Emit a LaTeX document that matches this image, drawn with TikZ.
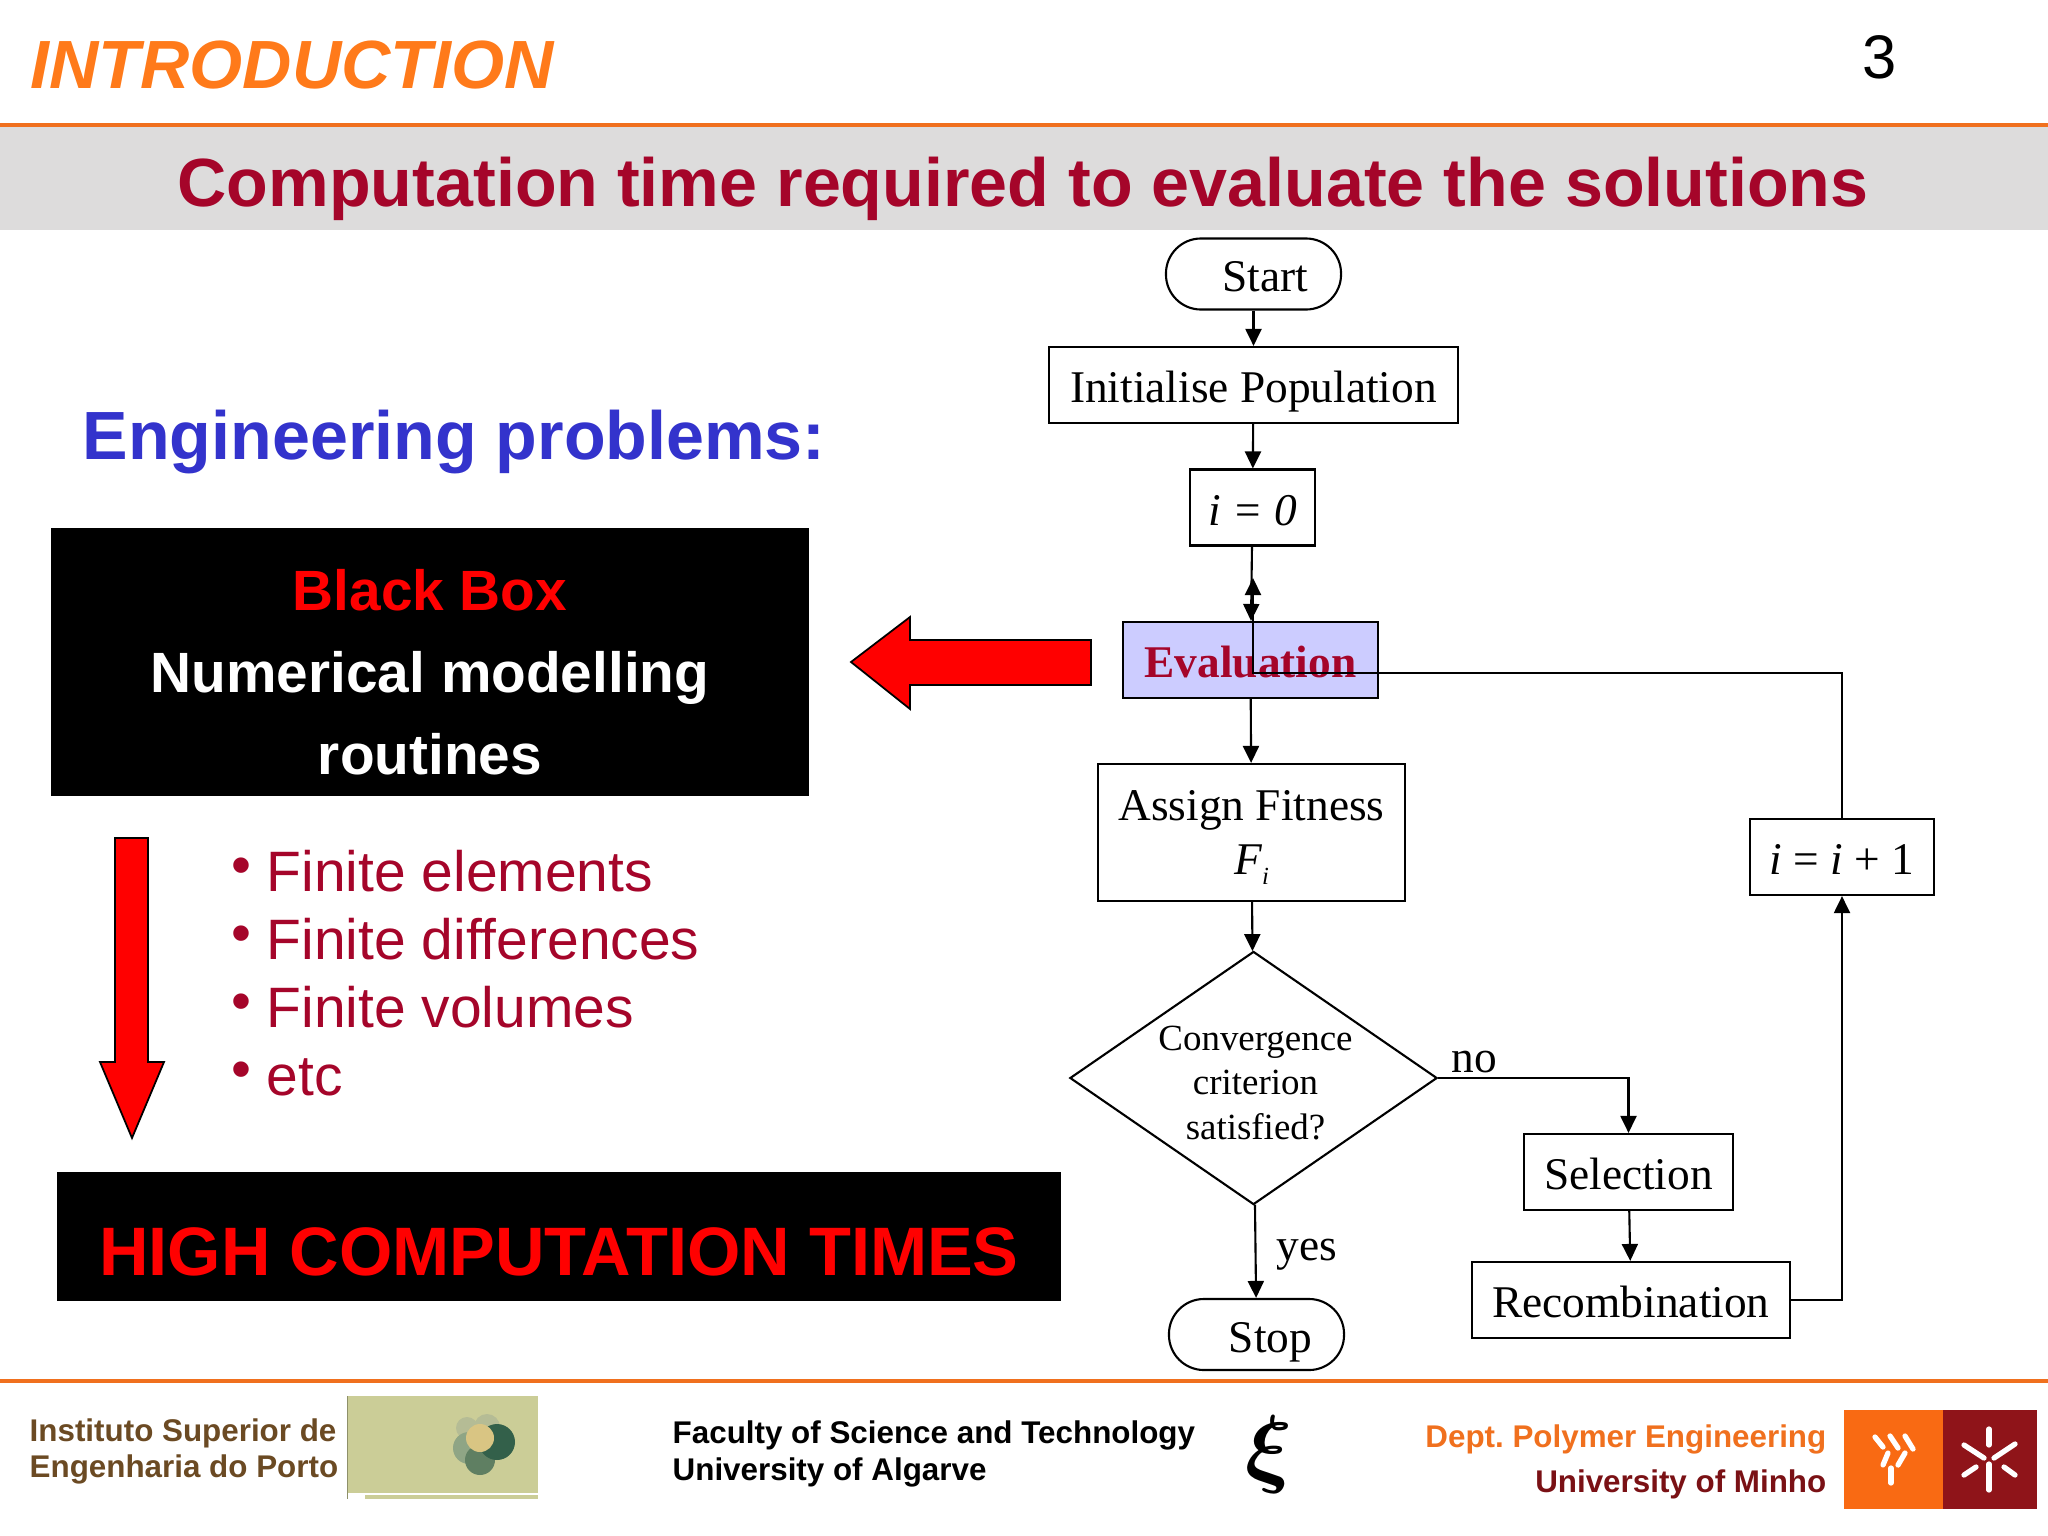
\documentclass[tikz,border=0pt]{standalone}
\usepackage{amsmath}
\usepackage{fontspec}
\setmainfont{Liberation Serif}
\setsansfont{Liberation Sans}
\usetikzlibrary{arrows.meta, shapes.geometric}
\definecolor{slideorange}{HTML}{F0701E}
\definecolor{headorange}{HTML}{FF7A1A}
\definecolor{slidegrey}{HTML}{DDDCDC}
\definecolor{wine}{HTML}{A5052A}
\definecolor{probblue}{HTML}{3333CC}
\definecolor{evalblue}{HTML}{CCCCFF}
\definecolor{ispbrown}{HTML}{6B4A23}
\definecolor{ispgreen}{HTML}{CBCD97}
\definecolor{isppale}{HTML}{B5BC95}
\definecolor{ispsage}{HTML}{8FA585}
\definecolor{isplow}{HTML}{5F7F62}
\definecolor{ispdark}{HTML}{33604A}
\definecolor{isptan}{HTML}{D9C583}
\definecolor{uminho}{HTML}{F96A13}
\definecolor{umaroon}{HTML}{8F1419}
\tikzset{
  flowbox/.style={draw,line width=0.6pt,minimum height=0.76cm,inner sep=0pt,text height=0.35cm,text depth=0pt,font=\fontsize{12.9pt}{15.5pt}\selectfont},
  terminal/.style={flowbox,rounded corners=0.35cm,minimum height=0.71cm},
  flowlabel/.style={inner sep=0pt,font=\fontsize{12.9pt}{15.5pt}\selectfont},
  flowline/.style={line width=0.6pt,-{Triangle[length=0.17cm,width=0.16cm]}},
  blackpanel/.style={fill=black,inner sep=0pt},
  bigarrow/.style={draw=black,fill=red,line width=0.5pt},
  bullettext/.style={anchor=west,inner sep=0pt,text=wine,font=\sffamily\fontsize{16.2pt}{20pt}\selectfont},
  footertext/.style={inner sep=0pt,font=\sffamily\bfseries\fontsize{8.92pt}{11pt}\selectfont},
  logostroke/.style={white,line width=1.5pt,line cap=round}
}
\begin{document}
\begin{tikzpicture}[x=0.01cm,y=-0.01cm,>=Stealth]
  \useasboundingbox (0,0) rectangle (2048,1536);

  % header
  \fill[slidegrey](0,127) rectangle (2048,230);
  \draw[slideorange,line width=1pt](0,125)--(2048,125);
  \node[anchor=west,inner sep=0pt,text=headorange,font=\sffamily\bfseries\itshape\fontsize{19.4pt}{24pt}\selectfont] (heading) at (30,65){INTRODUCTION};
  \node[inner sep=0pt,font=\sffamily\fontsize{17.5pt}{20pt}\selectfont] (pagenum) at (1880,57){3};
  \node[inner sep=0pt,text=wine,font=\sffamily\bfseries\fontsize{19.4pt}{24pt}\selectfont] (subtitle) at (1023,189){Computation time required to evaluate the solutions};

  % left column
  \node[anchor=west,inner sep=0pt,text=probblue,font=\sffamily\bfseries\fontsize{19.4pt}{24pt}\selectfont] (problems) at (82,442){Engineering problems:};
  \node[blackpanel,minimum width=7.58cm,minimum height=2.67cm,
    label={[align=center,text=white,yshift=-0.1cm,font=\sffamily\bfseries\fontsize{16.15pt}{23.3pt}\selectfont]center:\textcolor{red}{Black Box}\\Numerical modelling\\routines}] (blackbox) at (430,662){};
  \node[blackpanel,minimum width=10.03cm,minimum height=1.29cm,
    label={[text=red,yshift=-0.15cm,font=\sffamily\bfseries\fontsize{19.5pt}{24pt}\selectfont]center:HIGH COMPUTATION TIMES}] (hightimes) at (559,1236.5){};
  \draw[bigarrow](1091,640)--(910,640)--(910,617)--(851,662)--(910,709)--(910,685)--(1091,685)--cycle;
  \draw[bigarrow](115,838)--(148,838)--(148,1062)--(164,1062)--(132,1138)--(100,1062)--(115,1062)--cycle;
  \foreach \yy/\nm/\txt in {871/felem/Finite elements,939/fdiff/Finite differences,1007/fvol/Finite volumes,1077/fetc/etc}{
    \node[bullettext] (\nm) at (231,\yy){\makebox[0.35cm][l]{\raisebox{0.07cm}{\textbullet}}\txt};
  }

  % flowchart
  \node[terminal,minimum width=1.75cm] (start) at (1253.5,274){\hspace*{0.23cm}Start};
  \node[flowbox,minimum width=4.09cm] (init) at (1253.5,385){Initialise Population};
  \node[flowbox,minimum width=1.25cm] (izero) at (1252.5,507.5){\textit{i = 0}};
  \node[flowbox,minimum width=2.54cm,fill=evalblue,text=wine,font=\bfseries\fontsize{12.9pt}{15.5pt}\selectfont] (eval) at (1250.5,660){Evaluation};
  \node[draw,line width=0.6pt,inner sep=0pt,minimum width=3.07cm,minimum height=1.37cm,
    label={[align=center,yshift=-0.05cm,font=\fontsize{12.9pt}{15.5pt}\selectfont]center:Assign Fitness\\\textit{F}\raisebox{-0.1cm}{\fontsize{7pt}{8pt}\selectfont\textit{i}}}] (assign) at (1251.5,832.5){};
  \node[diamond,draw,line width=0.6pt,inner sep=0pt,minimum width=3.67cm,minimum height=2.53cm,
    label={[align=center,xshift=0.02cm,yshift=-0.05cm,font=\fontsize{10.5pt}{12.65pt}\selectfont]center:Convergence\\criterion\\satisfied?}] (conv) at (1253.5,1078){};
  \node[terminal,minimum width=1.75cm] (stop) at (1256.5,1334.5){\hspace*{0.28cm}Stop};
  \node[flowbox,minimum width=2.09cm] (select) at (1628.5,1172){Selection};
  \node[flowbox,minimum width=3.18cm] (recomb) at (1631,1300){Recombination};
  \node[flowbox,minimum width=1.84cm] (incr) at (1842,857){\textit{i} = \textit{i} + 1};
  \node[flowlabel] (nolabel) at (1474,1062){no};
  \node[flowlabel] (yeslabel) at (1307,1255){yes};
  \coordinate (fbend) at (1253,673);
  \coordinate (ftip) at (1253,578);
  \coordinate (rcorner) at (incr |- recomb);

  \draw[flowline](start)--(init);
  \draw[flowline](init)--(izero);
  \draw[flowline](izero)--(eval);
  \draw[flowline](eval)--(assign);
  \draw[flowline](assign)--(conv);
  \draw[flowline](conv)--(stop);
  \draw[flowline](conv.east)-|(select.north);
  \draw[flowline](select)--(recomb);
  \draw[flowline](recomb.east)--(rcorner)--(incr.south);
  \draw[flowline](incr.north)|-(fbend)--(ftip);

  % footer
  \draw[slideorange,line width=1pt](0,1381)--(2048,1381);
  \node[footertext,anchor=west,text=ispbrown] (isep1) at (29,1433.5){Instituto Superior de};
  \node[footertext,anchor=west,text=ispbrown] (isep2) at (29,1469.5){Engenharia do Porto};
  \fill[ispgreen](348,1396) rectangle (538,1493);
  \fill[ispgreen](365,1495) rectangle (538,1499);
  \draw[ispgreen!70!black,line width=0.5pt](347.5,1396)--(347.5,1499);
  \fill[isppale](467,1428) circle (11);
  \fill[isppale](487,1427) circle (13);
  \fill[ispsage](469,1448) circle (16);
  \fill[isplow](480,1460) circle (15);
  \fill[ispdark](497,1442) circle (18);
  \fill[isptan](480,1438) circle (14);
  \node[footertext,anchor=west] (ualg1) at (672,1435.5){Faculty of Science and Technology};
  \node[footertext,anchor=west] (ualg2) at (672,1472.5){University of Algarve};
  \node[inner sep=0pt,font=\fontsize{33pt}{34pt}\selectfont] (xilogo) at (1269,1455){$\boldsymbol{\xi}$};
  \node[footertext,anchor=east,text=slideorange] (dept) at (1827,1439.5){Dept.\ Polymer Engineering};
  \node[footertext,anchor=east,text=umaroon!85!black] (minho) at (1827,1484){University of Minho};
  \fill[uminho](1844,1410) rectangle (1943,1509);
  \fill[umaroon](1943,1410) rectangle (2037,1509);
  \foreach \xa/\ya/\xb/\yb in {1875/1437/1883/1447,1890/1436/1898/1448,1905/1436/1913/1449,1883/1465/1888/1453,1898/1465/1905/1453,1891/1468/1891/1483,
    1989/1429/1989/1445,1964/1445/1984/1458,2015/1444/1994/1458,1964/1475/1976/1467,2015/1475/2004/1467,1989/1464/1989/1490}{
    \draw[logostroke](\xa,\ya)--(\xb,\yb);
  }
\end{tikzpicture}
\end{document}
